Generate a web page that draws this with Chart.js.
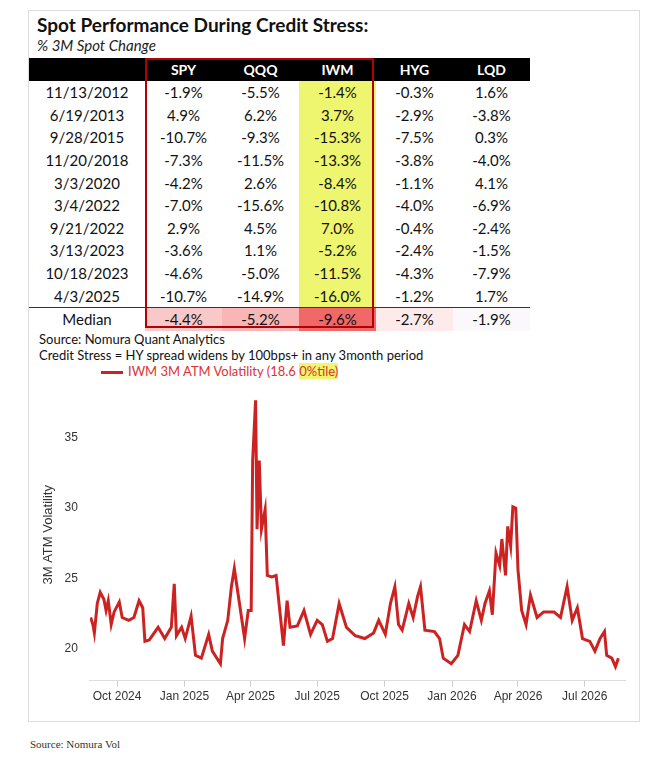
<!DOCTYPE html>
<html>
<head>
<meta charset="utf-8">
<script src="https://cdn.jsdelivr.net/npm/chart.js@4"></script>
<style>
  body { margin: 0; background: #fff; font-family: Lato, "Open Sans", sans-serif; }
  #frame { position: absolute; left: 28px; top: 10px; width: 610px; height: 710px; border: 1px solid #ddd; }
  #title { position: absolute; left: 8px; top: 2px; font-size: 19px; font-weight: bold; color: #111; }
  #sub { position: absolute; left: 8px; top: 25px; font-size: 15px; font-style: italic; color: #222; }
  table { position: absolute; left: 0; top: 47px; border-collapse: collapse; font-size: 15px; color: #111; }
  td, th { height: 22.6px; padding: 0; text-align: center; }
  th { background: #000; color: #fff; font-size: 14px; height: 23px; }
  td.iwm { background: #eef56e; }
  tr.last td { border-bottom: 1px solid #333; }
  #redbox { position: absolute; left: 116px; top: 47px; width: 229px; height: 270px; border: 2px solid #b30000; box-sizing: border-box; pointer-events: none; }
  #notes { position: absolute; left: 10px; top: 320px; font-size: 13px; line-height: 16px; color: #111; }
  #legend { position: absolute; left: 72px; top: 352px; font-size: 13px; color: #d33; }
  #legend span.sw { display: inline-block; width: 22px; height: 3px; background: #cc2222; vertical-align: middle; margin-right: 5px; }
  #legend span.hl { background: #eef56e; }
  #wrap { position: absolute; left: 8px; top: 366px; width: 596px; height: 330px; }
  #src { position: absolute; left: 30px; top: 738px; font-family: "Liberation Serif", serif; font-size: 11px; color: #333; }
</style>
</head>
<body>
<div id="frame">
  <div id="title">Spot Performance During Credit Stress:</div>
  <div id="sub">% 3M Spot Change</div>
  <table id="tbl"></table>
  <div id="redbox"></div>
  <div id="notes">Source: Nomura Quant Analytics<br>Credit Stress = HY spread widens by 100bps+ in any 3month period</div>
  <div id="legend"><span class="sw"></span>IWM 3M ATM Volatility (18.6 <span class="hl">0%tile)</span></div>
  <div id="wrap"><canvas id="c"></canvas></div>
</div>
<div id="src">Source: Nomura Vol</div>
<script>
// table data
const tickers = ["SPY", "QQQ", "IWM", "HYG", "LQD"];
const dates = ["11/13/2012", "6/19/2013", "9/28/2015", "11/20/2018", "3/3/2020", "3/4/2022", "9/21/2022", "3/13/2023", "10/18/2023", "4/3/2025"];
const spy = ["-1.9%", "4.9%", "-10.7%", "-7.3%", "-4.2%", "-7.0%", "2.9%", "-3.6%", "-4.6%", "-10.7%"];
const qqq = ["-5.5%", "6.2%", "-9.3%", "-11.5%", "2.6%", "-15.6%", "4.5%", "1.1%", "-5.0%", "-14.9%"];
const iwm = ["-1.4%", "3.7%", "-15.3%", "-13.3%", "-8.4%", "-10.8%", "7.0%", "-5.2%", "-11.5%", "-16.0%"];
const hyg = ["-0.3%", "-2.9%", "-7.5%", "-3.8%", "-1.1%", "-4.0%", "-0.4%", "-2.4%", "-4.3%", "-1.2%"];
const lqd = ["1.6%", "-3.8%", "0.3%", "-4.0%", "4.1%", "-6.9%", "-2.4%", "-1.5%", "-7.9%", "1.7%"];
const medians = ["-4.4%", "-5.2%", "-9.6%", "-2.7%", "-1.9%"];
const medianColors = ["#f9c8c8", "#f8b6b6", "#f06868", "#fdeaea", "#fbf8fb"];

// IWM 3M ATM vol: day offset from 2024-09-01, value
const volDays = [-6, -3, -1, 3, 7, 12, 15, 18, 22, 26, 33, 37, 46, 53, 60, 65, 68, 74, 86, 95, 104, 108, 111, 118, 123, 131, 137, 145, 155, 160, 171, 174, 181, 186, 190, 197, 204, 209, 213, 215, 219, 221, 224, 227, 232, 235, 241, 247, 252, 257, 262, 266, 276, 285, 294, 303, 310, 317, 324, 333, 343, 355, 368, 380, 387, 396, 403, 409, 414, 419, 428, 434, 440, 444, 450, 463, 470, 475, 486, 495, 504, 511, 520, 527, 532, 538, 542, 547, 552, 555, 560, 563, 567, 570, 574, 577, 582, 588, 594, 603, 612, 626, 635, 644, 651, 658, 665, 675, 682, 689, 695, 698, 705, 710, 714];
const volValues = [22.2, 21.7, 21.1, 23.2, 24.0, 23.5, 22.7, 23.4, 21.7, 22.6, 23.3, 22.2, 22.0, 22.2, 23.4, 22.9, 20.5, 20.6, 21.5, 20.7, 21.5, 24.6, 20.9, 21.5, 20.7, 22.3, 19.5, 19.3, 21.0, 19.8, 18.9, 20.7, 22.0, 24.4, 25.7, 23.2, 20.7, 22.7, 22.7, 33.4, 37.7, 28.5, 33.4, 28.5, 29.9, 25.2, 25.1, 25.2, 22.7, 20.2, 23.4, 21.5, 21.6, 22.7, 21.0, 22.0, 21.7, 20.5, 20.7, 23.2, 21.5, 20.9, 20.7, 21.1, 22.0, 21.0, 23.2, 24.4, 21.7, 21.3, 23.2, 22.2, 23.7, 24.4, 21.3, 21.2, 20.7, 19.3, 18.9, 19.5, 21.7, 21.2, 23.4, 22.0, 23.2, 24.1, 22.4, 26.8, 25.9, 27.8, 25.2, 28.7, 27.3, 30.1, 30.0, 25.6, 22.7, 21.7, 23.8, 22.2, 22.6, 22.6, 22.2, 24.4, 22.0, 22.9, 20.7, 20.5, 19.8, 20.7, 21.2, 19.5, 19.3, 18.7, 19.3];
const xTickDays = [30, 122, 212, 303, 395, 487, 577, 668];
const xTickLabels = ["Oct 2024", "Jan 2025", "Apr 2025", "Jul 2025", "Oct 2025", "Jan 2026", "Apr 2026", "Jul 2026"];
const yTicks = [20, 25, 30, 35];

const widths = [116, 77, 77, 77, 77, 77];
let html = "<tr><th style='width:" + widths[0] + "px'></th>" +
  tickers.map((t, i) => `<th style="width:${widths[i + 1]}px">${t}</th>`).join("") + "</tr>";
dates.forEach((d, i) => {
  const cls = i === dates.length - 1 ? " class='last'" : "";
  html += `<tr${cls}><td>${d}</td><td>${spy[i]}</td><td>${qqq[i]}</td><td class="iwm">${iwm[i]}</td><td>${hyg[i]}</td><td>${lqd[i]}</td></tr>`;
});
html += "<tr><td>Median</td>" + medians.map((m, i) => `<td style="background:${medianColors[i]}">${m}</td>`).join("") + "</tr>";
document.getElementById("tbl").innerHTML = html;

new Chart(document.getElementById("c"), {
  type: "line",
  data: {
    datasets: [{
      data: volDays.map((d, i) => ({ x: d, y: volValues[i] })),
      borderColor: "#cc2222",
      borderWidth: 3,
      pointRadius: 0,
      tension: 0,
    }],
  },
  options: {
    responsive: true,
    maintainAspectRatio: false,
    animation: false,
    layout: { padding: { top: 12, right: 8 } },
    plugins: { legend: { display: false }, tooltip: { enabled: false } },
    scales: {
      x: {
        type: "linear",
        min: -7,
        max: 723,
        afterBuildTicks: (ax) => { ax.ticks = xTickDays.map((v) => ({ value: v })); },
        ticks: {
          autoSkip: false, maxRotation: 0,
          callback: (v) => xTickLabels[xTickDays.indexOf(v)],
          color: "#333", font: { size: 12 },
        },
        grid: { drawOnChartArea: false, tickLength: 6, color: "#ccc" },
        border: { color: "#ddd" },
      },
      y: {
        min: 17.7,
        max: 38.5,
        afterBuildTicks: (ax) => { ax.ticks = yTicks.map((v) => ({ value: v })); },
        ticks: { color: "#333", font: { size: 12 }, padding: 4 },
        grid: { display: false },
        border: { display: false },
        title: { display: true, text: "3M ATM Volatility", color: "#333", font: { size: 13 } },
      },
    },
  },
});
</script>
</body>
</html>
